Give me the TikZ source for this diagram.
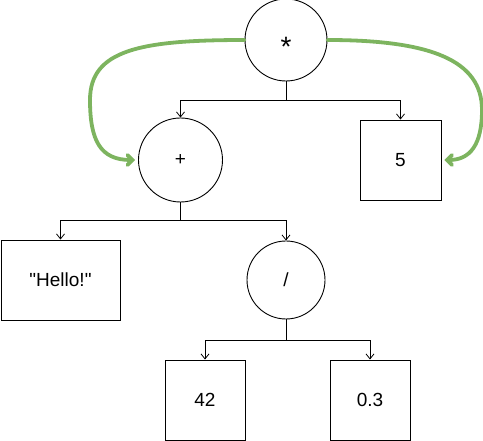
\documentclass[tikz,border=0pt]{standalone}
\usepackage{fontspec}
\setmainfont{Liberation Sans}
\usetikzlibrary{arrows.meta}
\definecolor{leafgreen}{RGB}{125,180,95}
\tikzset{
  opnode/.style={draw=black,line width=0.9pt,circle,inner sep=0pt,font=\fontsize{19}{22}\selectfont},
  valnode/.style={draw=black,line width=0.9pt,rectangle,inner sep=0pt,font=\fontsize{19}{22}\selectfont},
  link/.style={draw=black,line width=0.8pt},
  linkarrow/.style={link,-{Straight Barb[length=5pt,width=8pt]}},
  greenarrow/.style={draw=leafgreen,line width=3.8pt,line cap=round,-{Straight Barb[length=5pt,width=10pt,line cap=round]}}
}
\begin{document}
\begin{tikzpicture}[x=1pt,y=-1pt]
\useasboundingbox (0,0) rectangle (483,441);
\node[opnode,minimum size=82pt] (mul) at (286,40) {\fontsize{28}{30}\selectfont\raisebox{-0.58em}[0pt][0pt]{*}};
\node[opnode,minimum size=84pt] (add) at (180.5,160) {+};
\node[valnode,minimum width=81pt,minimum height=80pt] (five) at (400.5,160) {5};
\node[valnode,minimum width=119pt,minimum height=80pt] (hello) at (60.5,280) {\textquotedbl Hello!\textquotedbl};
\node[opnode,minimum size=78pt] (div) at (286,280) {/};
\node[valnode,minimum width=80pt,minimum height=80pt] (n42) at (205,400) {42};
\node[valnode,minimum width=80pt,minimum height=80pt] (n03) at (370,400) {0.3};
\coordinate (j1) at (286,100);
\coordinate (j2) at (180.5,220);
\coordinate (j3) at (286,340);
\draw[link] (mul.south) -- (j1);
\draw[linkarrow] (j1) -| (add.north);
\draw[linkarrow] (j1) -| (five.north);
\draw[link] (add.south) -- (j2);
\draw[linkarrow] (j2) -| (hello.north);
\draw[linkarrow] (j2) -| (div.north);
\draw[link] (div.south) -- (j3);
\draw[linkarrow] (j3) -| (n42.north);
\draw[linkarrow] (j3) -| (n03.north);
\coordinate (lb) at (90,100);
\coordinate (rb) at (482,110);
\draw[greenarrow] (mul.west) .. controls (140,40) and (90,50) .. (lb) .. controls (90,140) and (100,160) .. ([xshift=-3pt]add.west);
\draw[greenarrow] (mul.east) .. controls (430,40) and (482,60) .. (rb) .. controls (482,145) and (470,160) .. ([xshift=3pt]five.east);
\end{tikzpicture}
\end{document}
